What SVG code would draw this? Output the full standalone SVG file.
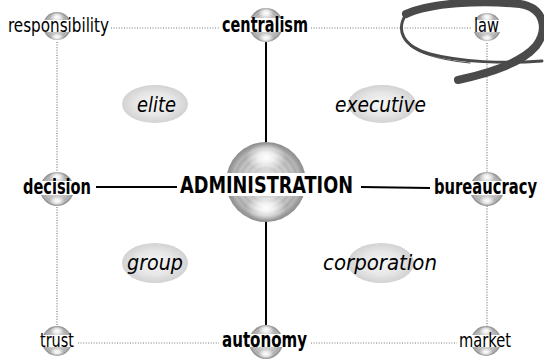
<svg xmlns="http://www.w3.org/2000/svg" width="544" height="360" viewBox="0 0 544 360">
<style>
text{font-family:"DejaVu Sans Condensed","DejaVu Sans","Liberation Sans",sans-serif;font-stretch:condensed;fill:#000}
.reg{font-size:20px}
.bold{font-size:21px;font-weight:bold}
.big{font-size:22.5px;font-weight:bold}
.it{font-size:22px;font-style:italic}
.dot{stroke:#777;stroke-width:1.2;stroke-dasharray:1 1.6;fill:none}
.solid{stroke:#000;stroke-width:2;fill:none}
.sph{fill:url(#sg)}
.hl{fill:url(#hg)}
.band{fill:#fff}
.oval{fill:url(#og)}
.loop{fill:none;stroke:#4a4a4a;stroke-linecap:round}
</style>
<defs>
<radialGradient id="sg" cx="50%" cy="50%" r="50%">
<stop offset="0" stop-color="#e4e4e4"/>
<stop offset="0.3" stop-color="#d6d6d6"/>
<stop offset="0.36" stop-color="#c8c8c8"/>
<stop offset="0.42" stop-color="#d4d4d4"/>
<stop offset="0.5" stop-color="#c0c0c0"/>
<stop offset="0.56" stop-color="#cccccc"/>
<stop offset="0.64" stop-color="#b6b6b6"/>
<stop offset="0.7" stop-color="#c2c2c2"/>
<stop offset="0.78" stop-color="#aaaaaa"/>
<stop offset="0.84" stop-color="#b6b6b6"/>
<stop offset="0.92" stop-color="#9c9c9c"/>
<stop offset="1" stop-color="#8e8e8e"/>
</radialGradient>
<radialGradient id="hg" cx="50%" cy="50%" r="50%">
<stop offset="0" stop-color="#ffffff" stop-opacity="1"/>
<stop offset="0.4" stop-color="#ffffff" stop-opacity="0.75"/>
<stop offset="1" stop-color="#ffffff" stop-opacity="0"/>
</radialGradient>
<radialGradient id="og" cx="50%" cy="50%" r="50%">
<stop offset="0" stop-color="#f6f6f6"/>
<stop offset="0.6" stop-color="#e6e6e6"/>
<stop offset="1" stop-color="#d2d2d2"/>
</radialGradient>
</defs>

<g id="connectors">
<line class="dot" x1="111" y1="28" x2="219" y2="28"/>
<line class="dot" x1="311" y1="28" x2="471" y2="28"/>
<line class="dot" x1="78" y1="343" x2="219" y2="343"/>
<line class="dot" x1="311" y1="343" x2="457" y2="343"/>
<line class="dot" x1="57" y1="42" x2="57" y2="172"/>
<line class="dot" x1="57" y1="207" x2="57" y2="326"/>
<line class="dot" x1="487" y1="43" x2="487" y2="172"/>
<line class="dot" x1="487" y1="206" x2="487" y2="326"/>
<line class="solid" x1="266" y1="42" x2="266" y2="143"/>
<line class="solid" x1="266" y1="221" x2="266" y2="327"/>
<line class="solid" x1="96" y1="187" x2="177" y2="187"/>
<line class="solid" x1="361" y1="187" x2="430" y2="188"/>
</g>

<g id="elite"><ellipse class="oval" cx="155" cy="104" rx="33" ry="19"/><text class="it" x="137" y="112" textLength="39" lengthAdjust="spacingAndGlyphs">elite</text></g>
<g id="executive"><ellipse class="oval" cx="382" cy="104" rx="34" ry="19"/><text class="it" x="335" y="112" textLength="91" lengthAdjust="spacingAndGlyphs">executive</text></g>
<g id="group"><ellipse class="oval" cx="155" cy="263" rx="33" ry="20"/><text class="it" x="127" y="270" textLength="56" lengthAdjust="spacingAndGlyphs">group</text></g>
<g id="corporation"><ellipse class="oval" cx="381" cy="263" rx="33" ry="20"/><text class="it" x="323" y="270" textLength="114" lengthAdjust="spacingAndGlyphs">corporation</text></g>

<g id="administration">
<circle class="sph" cx="266" cy="182" r="40"/>
<ellipse class="hl" cx="266" cy="157" rx="20" ry="14"/>
<ellipse class="hl" cx="266" cy="208" rx="20" ry="13"/>
<rect class="band" x="226" y="173" width="80" height="23"/>
<text class="big" x="180" y="193" textLength="173" lengthAdjust="spacingAndGlyphs">ADMINISTRATION</text>
</g>

<g id="responsibility"><circle class="sph" cx="57" cy="26" r="14"/><ellipse class="hl" cx="57" cy="17" rx="7" ry="5"/><ellipse class="hl" cx="57" cy="37" rx="7" ry="4"/><rect class="band" x="43" y="20" width="28" height="12"/><text class="reg" x="8" y="32" textLength="101" lengthAdjust="spacingAndGlyphs">responsibility</text></g>
<g id="centralism"><circle class="sph" cx="266" cy="25" r="17"/><ellipse class="hl" cx="266" cy="13" rx="8" ry="6"/><ellipse class="hl" cx="266" cy="38" rx="8" ry="5"/><rect class="band" x="249" y="18" width="34" height="14"/><text class="bold" x="222" y="32" textLength="86" lengthAdjust="spacingAndGlyphs">centralism</text></g>
<g id="law"><circle class="sph" cx="487" cy="27" r="14"/><ellipse class="hl" cx="487" cy="17" rx="7" ry="5"/><ellipse class="hl" cx="487" cy="38" rx="7" ry="4"/><rect class="band" x="473" y="20" width="28" height="12"/><text class="reg" x="474" y="32" textLength="25" lengthAdjust="spacingAndGlyphs">law</text></g>
<g id="decision"><circle class="sph" cx="57" cy="189" r="17"/><ellipse class="hl" cx="57" cy="177" rx="8" ry="6"/><ellipse class="hl" cx="57" cy="201" rx="8" ry="5"/><rect class="band" x="40" y="181" width="34" height="14"/><text class="bold" x="23" y="194" textLength="68" lengthAdjust="spacingAndGlyphs">decision</text></g>
<g id="bureaucracy"><circle class="sph" cx="487" cy="189" r="17"/><ellipse class="hl" cx="487" cy="177" rx="8" ry="6"/><ellipse class="hl" cx="487" cy="201" rx="8" ry="5"/><rect class="band" x="470" y="181" width="34" height="14"/><text class="bold" x="434" y="194" font-size="19" textLength="103" lengthAdjust="spacingAndGlyphs">bureaucracy</text></g>
<g id="trust"><circle class="sph" cx="57" cy="341" r="15"/><ellipse class="hl" cx="57" cy="331" rx="7" ry="5"/><ellipse class="hl" cx="57" cy="352" rx="7" ry="4"/><rect class="band" x="42" y="335" width="30" height="12"/><text class="reg" x="40" y="347" textLength="34" lengthAdjust="spacingAndGlyphs">trust</text></g>
<g id="autonomy"><circle class="sph" cx="266" cy="342" r="17"/><ellipse class="hl" cx="266" cy="330" rx="8" ry="6"/><ellipse class="hl" cx="266" cy="354" rx="8" ry="5"/><rect class="band" x="249" y="334" width="34" height="13"/><text class="bold" x="222" y="347" textLength="85" lengthAdjust="spacingAndGlyphs">autonomy</text></g>
<g id="market"><circle class="sph" cx="486" cy="341" r="15"/><ellipse class="hl" cx="486" cy="331" rx="7" ry="5"/><ellipse class="hl" cx="486" cy="352" rx="7" ry="4"/><rect class="band" x="471" y="335" width="30" height="12"/><text class="reg" x="459" y="347" textLength="52" lengthAdjust="spacingAndGlyphs">market</text></g>

<g id="highlight-loop">
<path class="loop" stroke-width="3" d="M 406,14 C 396,30 402,46 430,54 C 460,62 505,64 542,61"/>
<path class="loop" stroke-width="1" stroke="#aaa" d="M 410,46 C 420,54 440,60 470,63"/>
<path class="loop" stroke-width="8" d="M 406,14 C 430,3 480,0 520,4 C 545,8 548,30 536,46 C 522,62 495,72 458,80"/>
<path class="loop" stroke-width="4" d="M 476,77 C 500,70 515,64 530,54"/>
</g>
</svg>
